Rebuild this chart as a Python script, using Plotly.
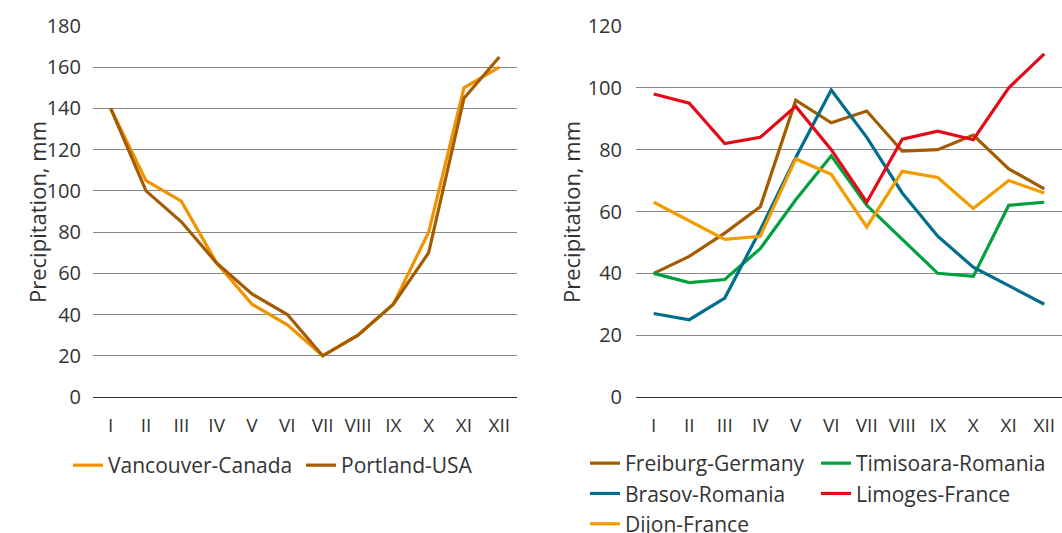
import plotly.graph_objects as go

months = ["I", "II", "III", "IV", "V", "VI", "VII", "VIII", "IX", "X", "XI", "XII"]

vancouver = [140, 105, 95, 65, 45, 35, 20, 30, 45, 80, 150, 160]
portland = [140, 100, 85, 65, 50, 40, 20, 30, 45, 70, 145, 165]

freiburg = [40, 45.5, 53, 61.5, 96, 88.7, 92.5, 79.5, 80, 84.7, 73.8, 67.3]
timisoara = [40, 37, 38, 48, 63.8, 78, 62, 51, 40, 39, 62, 63]
brasov = [27, 25, 32, 54, 77.5, 99.3, 84, 66, 52, 42, 36, 30]
limoges = [98, 95, 82, 84, 94, 80, 63, 83.4, 86, 83.2, 100, 111]
dijon = [63, 57, 51, 52, 77, 72, 55, 73, 71, 61, 70, 66]

FONT = "Open Sans"
TXT = "#333333"

fig = go.Figure()

def add(name, vals, color, xa, ya, legend):
    fig.add_trace(go.Scatter(x=months, y=vals, name=name, mode="lines",
                             line=dict(color=color, width=3.2),
                             xaxis=xa, yaxis=ya, legend=legend))

add("Vancouver-Canada", vancouver, "#F39200", "x", "y", "legend")
add("Portland-USA", portland, "#A35C00", "x", "y", "legend")

add("Freiburg-Germany", freiburg, "#A35C00", "x2", "y2", "legend2")
add("Timisoara-Romania", timisoara, "#00A03C", "x2", "y2", "legend3")
add("Brasov-Romania", brasov, "#006E8C", "x2", "y2", "legend2")
add("Limoges-France", limoges, "#E30B17", "x2", "y2", "legend3")
add("Dijon-France", dijon, "#F39C00", "x2", "y2", "legend2")

W, H = 1062, 533
ydom = [1 - 397 / H, 1 - 26 / H]

xcommon = dict(type="category", range=[-0.5, 11.5], showgrid=False, showline=False,
               ticks="", tickfont=dict(family=FONT, size=19, color=TXT),
               ticklabelstandoff=15)
ycommon = dict(showgrid=True, gridcolor="#888888", gridwidth=1, zeroline=True,
               zerolinecolor="#333333", zerolinewidth=1, showline=False, ticks="",
               tickfont=dict(family=FONT, size=20, color=TXT))

legfont = dict(family=FONT, size=21, color=TXT)

fig.update_layout(
    width=W, height=H,
    margin=dict(l=0, r=0, t=0, b=0, autoexpand=False),
    paper_bgcolor="white", plot_bgcolor="white",
    xaxis=dict(domain=[93 / W, 517 / W], anchor="y", **xcommon),
    yaxis=dict(domain=ydom, anchor="x", range=[0, 180], dtick=20, ticklabelstandoff=11, **ycommon),
    xaxis2=dict(domain=[636 / W, 1.0], anchor="y2", **xcommon),
    yaxis2=dict(domain=ydom, anchor="x2", range=[0, 120], dtick=20, ticklabelstandoff=13, **ycommon),
    legend=dict(orientation="h", x=68 / W, y=1 - 445 / H, xanchor="left", yanchor="top",
                font=legfont, bgcolor="rgba(0,0,0,0)", entrywidth=188),
    legend2=dict(orientation="v", x=585 / W, y=1 - 443 / H, xanchor="left", yanchor="top",
                 font=legfont, bgcolor="rgba(0,0,0,0)", tracegroupgap=0),
    legend3=dict(orientation="v", x=816 / W, y=1 - 443 / H, xanchor="left", yanchor="top",
                 font=legfont, bgcolor="rgba(0,0,0,0)", tracegroupgap=0),
    showlegend=True,
    annotations=[
        dict(text="Precipitation, mm", x=20 / W, y=1 - 212 / H, xref="paper", yref="paper",
             textangle=-90, showarrow=False, font=dict(family=FONT, size=22, color=TXT)),
        dict(text="Precipitation, mm", x=571 / W, y=1 - 212 / H, xref="paper", yref="paper",
             textangle=-90, showarrow=False, font=dict(family=FONT, size=22, color=TXT)),
    ],
)

fig.write_html("out.html", config={"displayModeBar": False},
               post_script="document.body.style.margin='0';document.body.style.overflow='hidden';")
